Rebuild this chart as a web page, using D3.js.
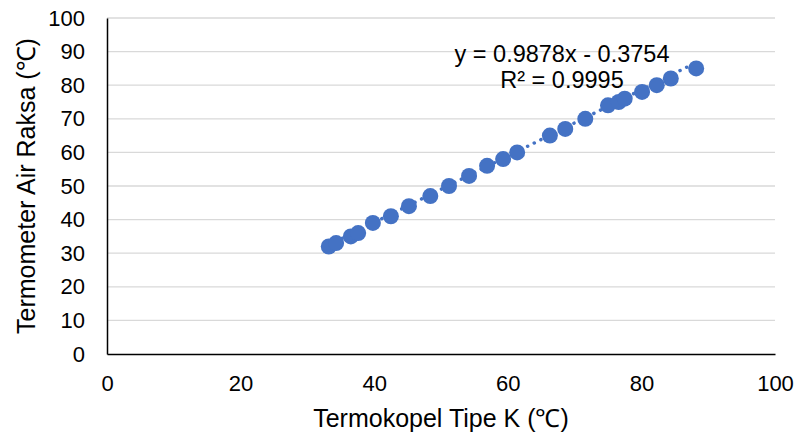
<!DOCTYPE html>
<html>
<head>
<meta charset="utf-8">
<script src="https://cdn.jsdelivr.net/npm/d3@7"></script>
<style>
  body { margin: 0; background: #fff; }
  svg { font-family: "Liberation Sans", Arial, sans-serif; }
</style>
</head>
<body>
<div id="chart"></div>
<script>
// measured points: thermocouple type K (x) vs mercury thermometer (y)
const termokopel = [33.2, 34.3, 36.5, 37.6, 39.8, 42.5, 45.2, 48.4, 51.2, 54.2, 56.9, 59.3, 61.4,
                    66.3, 68.6, 71.6, 75.0, 76.6, 77.5, 80.1, 82.3, 84.4, 88.2];
const raksa = [32, 33, 35, 36, 39, 41, 44, 47, 50, 53, 56, 58, 60,
               65, 67, 70, 74, 75, 76, 78, 80, 82, 85];
const xTicks = [0, 20, 40, 60, 80, 100];
const yTicks = [0, 10, 20, 30, 40, 50, 60, 70, 80, 90, 100];
const slope = 0.9878, intercept = -0.3754;
const eqText = "y = 0.9878x - 0.3754";
const r2Text = "R² = 0.9995";

function init() {
  const W = 803, H = 436;
  const margin = { top: 18, right: 28, bottom: 82, left: 107 };
  const width = W - margin.left - margin.right;
  const height = H - margin.top - margin.bottom;

  const svg = d3.select("#chart").append("svg")
      .attr("width", W)
      .attr("height", H);

  const chart = svg.append("g")
      .attr("transform", "translate(" + margin.left + "," + margin.top + ")");

  const x = d3.scaleLinear().domain([0, 100]).range([0, width]);
  const y = d3.scaleLinear().domain([0, 100]).range([height, 0]);

  // horizontal gridlines
  chart.append("g")
      .selectAll("line")
      .data(yTicks.filter(d => d > 0))
      .enter().append("line")
      .attr("x1", 0).attr("x2", width)
      .attr("y1", d => y(d)).attr("y2", d => y(d))
      .attr("stroke", "#d9d9d9")
      .attr("stroke-width", 1.3);

  const yAxis = chart.append("g")
      .call(d3.axisLeft(y).tickValues(yTicks).tickSize(0).tickPadding(22));
  yAxis.select(".domain").attr("stroke", "#000").attr("stroke-width", 1.5);
  yAxis.selectAll("text").attr("font-size", 22).attr("fill", "#000")
      .attr("font-family", "'Liberation Sans', Arial, sans-serif");

  const xAxis = chart.append("g")
      .attr("transform", "translate(0," + height + ")")
      .call(d3.axisBottom(x).tickValues(xTicks).tickSize(0).tickPadding(21));
  xAxis.select(".domain").attr("stroke", "#000").attr("stroke-width", 1.5);
  xAxis.selectAll("text").attr("font-size", 22).attr("fill", "#000")
      .attr("font-family", "'Liberation Sans', Arial, sans-serif");

  // trendline (linear fit), dotted
  const xr = d3.extent(termokopel);
  chart.append("line")
      .attr("x1", x(xr[0])).attr("y1", y(slope * xr[0] + intercept))
      .attr("x2", x(xr[1])).attr("y2", y(slope * xr[1] + intercept))
      .attr("stroke", "#4472c4")
      .attr("stroke-width", 3.5)
      .attr("stroke-linecap", "round")
      .attr("stroke-dasharray", "0.1 7.3");

  chart.selectAll(".dot")
      .data(termokopel.map((d, i) => [d, raksa[i]]))
      .enter().append("circle")
      .attr("class", "dot")
      .attr("cx", d => x(d[0]))
      .attr("cy", d => y(d[1]))
      .attr("r", 8)
      .attr("fill", "#4472c4");

  // equation labels
  chart.append("text")
      .attr("x", 562 - margin.left).attr("y", 62 - margin.top)
      .attr("text-anchor", "middle")
      .attr("font-size", 23.5)
      .text(eqText);
  chart.append("text")
      .attr("x", 562 - margin.left).attr("y", 88 - margin.top)
      .attr("text-anchor", "middle")
      .attr("font-size", 23.5)
      .text(r2Text);

  // axis titles
  svg.append("text")
      .attr("x", margin.left + width / 2)
      .attr("y", 427)
      .attr("text-anchor", "middle")
      .attr("font-size", 25)
      .text("Termokopel Tipe K (℃)");

  svg.append("text")
      .attr("transform", "translate(35," + (margin.top + height / 2) + ") rotate(-90)")
      .attr("text-anchor", "middle")
      .attr("font-size", 25)
      .text("Termometer Air Raksa (℃)");
}

window.onload = init;
</script>
</body>
</html>
